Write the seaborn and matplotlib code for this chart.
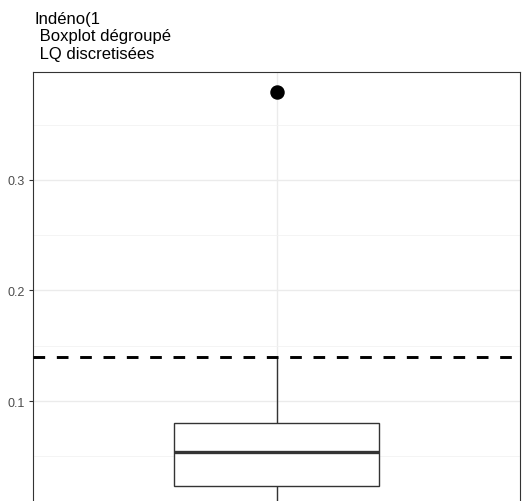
"""
Boxplot dégroupé - Indéno(1 with LQ threshold line
"""

import matplotlib
matplotlib.use('Agg')
import matplotlib.pyplot as plt
import seaborn as sns
import numpy as np
from matplotlib.ticker import MultipleLocator

# Data
values = [0.0, 0.012, 0.0233, 0.040, 0.0536, 0.066, 0.0798, 0.14, 0.38]
lq_threshold = 0.14
title_lines = ["Indéno(1", " Boxplot dégroupé", " LQ discretisées"]
y_ticks = [0.1, 0.2, 0.3]
y_tick_labels = ["0.1", "0.2", "0.3"]

sns.set_theme(style='white')
plt.rcParams['font.family'] = ['Liberation Sans', 'DejaVu Sans']

W, H = 522, 502
fig = plt.figure(figsize=(W / 100, H / 100), dpi=100)
fig.patch.set_facecolor('white')

# panel runs past the bottom edge of the image (as in the reference)
left, right, top, bottom = 33, 520, 73, 530
ax = fig.add_axes([left / W, (H - bottom) / H, (right - left) / W, (bottom - top) / H])

sns.boxplot(
    y=values, ax=ax, width=0.505, color='white', linecolor='#333333',
    linewidth=1.0, showcaps=False, fliersize=9.4,
    flierprops=dict(marker='o', markerfacecolor='black', markeredgecolor='black'),
    medianprops=dict(linewidth=2.4, color='#333333'),
)

ax.axhline(lq_threshold, color='black', linewidth=2.1, linestyle=(0, (4, 4)), zorder=5)

ax.set_xlim(-0.6, 0.6)
ax.set_ylim(-0.0158, 0.3977)
ax.set_yticks(y_ticks)
ax.set_yticklabels(y_tick_labels)
ax.yaxis.set_minor_locator(MultipleLocator(0.05))
ax.set_xticks([0])
ax.set_xticklabels([])
ax.set_xlabel('')
ax.set_ylabel('')

# theme_bw look
ax.set_axisbelow(True)
ax.grid(True, which='major', color='#EBEBEB', linewidth=1.0)
ax.grid(True, which='minor', axis='y', color='#F2F2F2', linewidth=0.6)
for s in ax.spines.values():
    s.set_color('#333333')
    s.set_linewidth(0.8)
ax.tick_params(axis='y', which='major', left=True, length=3, width=0.8,
               color='#333333', labelsize=9, labelcolor='#4D4D4D', pad=3)
ax.tick_params(axis='y', which='minor', left=False)
ax.tick_params(axis='x', bottom=False, labelbottom=False)

fig.text(35 / W, 1 - 12 / H, "\n".join(title_lines), ha='left', va='top',
         fontsize=12, color='black', linespacing=1.2)

plt.savefig('out.png', dpi=100)
plt.close()
